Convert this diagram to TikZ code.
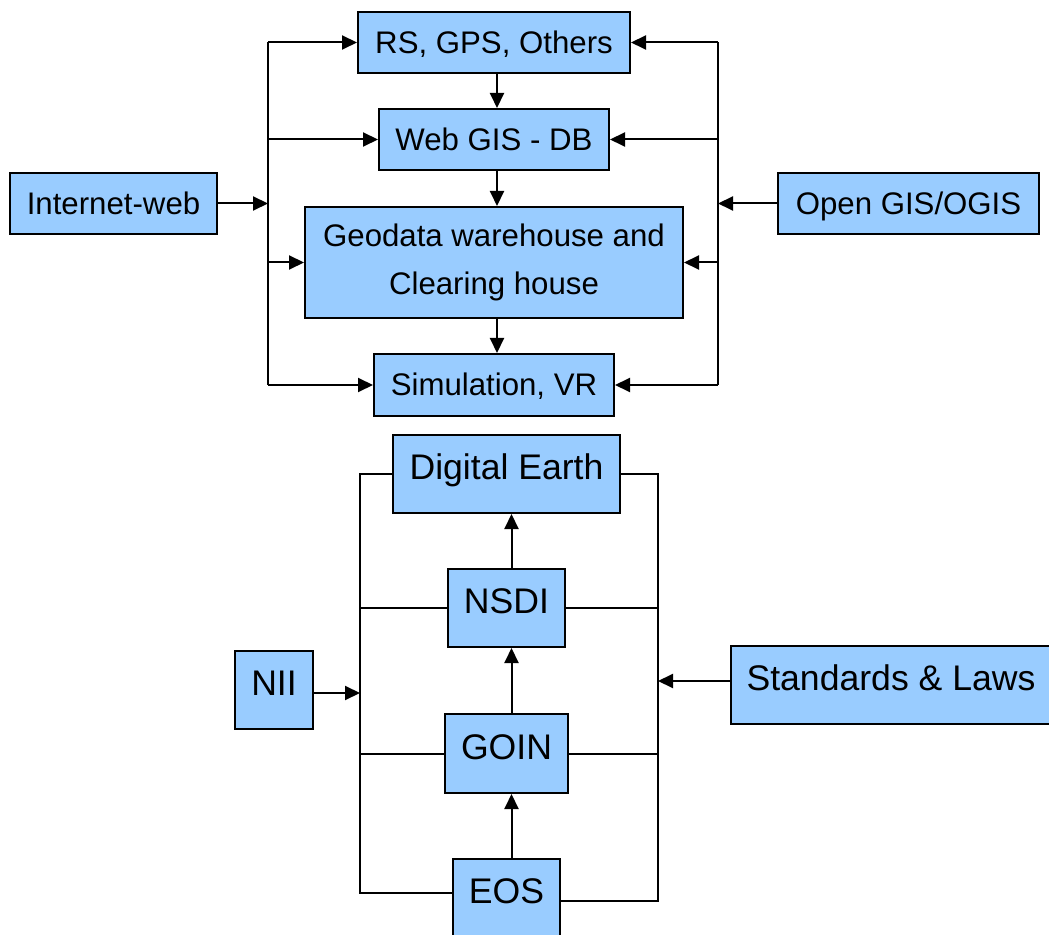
\documentclass[tikz,border=0pt]{standalone}
\usepackage{fontspec}
\setmainfont{Liberation Sans}
\usepackage{tikz}
\usetikzlibrary{arrows.meta,positioning}
\definecolor{boxblue}{HTML}{99CCFF}

\begin{document}
\begin{tikzpicture}[
    x=0.5pt, y=-0.5pt,
    block/.style={
        rectangle, draw, fill=boxblue,
        line width=1pt,
        inner sep=0pt,
        align=center
    },
    upper/.style={block,
        font=\fontsize{15.6}{24}\selectfont,
        minimum height=30.5pt
    },
    lower/.style={block,
        font=\fontsize{17.8}{22}\selectfont,
        text height=13pt, text depth=7.5pt,
        minimum height=39pt
    },
    wire/.style={line width=1pt},
    arr/.style={wire, -{Triangle[length=7.5pt,width=7pt]}}
]
\useasboundingbox (0,0) rectangle (1049,935);
\clip (0,0) rectangle (1049,935);

% upper part
\node[upper, text height=11pt, text depth=0pt, minimum width=136pt] (rs) at (494,42.5) {RS, GPS, Others};
\node[upper, text height=11pt, text depth=0pt, minimum width=115pt] (web) at (494,139.5) {Web GIS - DB};
\node[upper, minimum width=189pt, minimum height=55.5pt] (geo) at (494,262.5) {Geodata warehouse and\\Clearing house};
\node[upper, text height=11pt, text depth=0pt, minimum width=120pt, minimum height=31pt] (sim) at (494,385) {Simulation, VR};
\node[upper, text height=11pt, text depth=0pt, minimum width=103.5pt] (inet) at (113.5,203.5) {Internet-web};
\node[upper, text height=11pt, text depth=0pt, minimum width=130.5pt] (ogis) at (908.5,203.5) {Open GIS/OGIS};

\coordinate (lt) at (268,0);
\coordinate (rt) at (718,0);

\draw[wire] (rs.west -| lt) -- (sim.west -| lt);
\draw[wire] (rs.east -| rt) -- (sim.east -| rt);
\foreach \n in {rs,web,geo,sim}{
    \draw[arr] (\n.west -| lt) -- (\n.west);
    \draw[arr] (\n.east -| rt) -- (\n.east);
}
\draw[arr] (inet.east) -- (inet.east -| lt);
\draw[arr] (ogis.west) -- (ogis.west -| rt);

\draw[arr] ([xshift=1.5pt]rs.south) -- ([xshift=1.5pt]web.north);
\draw[arr] ([xshift=1.5pt]web.south) -- ([xshift=1.5pt]geo.north);
\draw[arr] ([xshift=1.5pt]geo.south) -- ([xshift=1.5pt]sim.north);

% lower part
\node[lower, minimum width=113.5pt] (de) at (506.5,474) {Digital Earth};
\node[lower, minimum width=58.5pt] (nsdi) at (506.5,608) {NSDI};
\node[lower, minimum width=61.5pt, minimum height=39.5pt] (goin) at (506.5,753.5) {GOIN};
\node[lower, minimum width=53.5pt] (eos) at (506.5,898) {EOS};
\node[lower, minimum width=39pt] (nii) at (274,690) {NII};
\node[lower, minimum width=160pt] (std) at (891,685) {Standards \& Laws};

\coordinate (bl) at (360,0);
\coordinate (br) at (658,0);

\draw[wire] (de.west) -| ([yshift=2.5pt]eos.west -| bl) -- ([yshift=2.5pt]eos.west);
\draw[wire] (de.east) -| ([yshift=-1.5pt]eos.east -| br) -- ([yshift=-1.5pt]eos.east);
\foreach \n in {nsdi,goin}{
    \draw[wire] (\n.west -| bl) -- (\n.west);
    \draw[wire] (\n.east) -- (\n.east -| br);
}
\draw[arr] ([yshift=-1.5pt]nii.east) -- ([yshift=-1.5pt]nii.east -| bl);
\draw[arr] ([yshift=2pt]std.west) -- ([yshift=2pt]std.west -| br);

\draw[arr] ([xshift=2.5pt]eos.north) -- ([xshift=2.5pt]goin.south);
\draw[arr] ([xshift=2.5pt]goin.north) -- ([xshift=2.5pt]nsdi.south);
\draw[arr] ([xshift=2.5pt]nsdi.north) -- ([xshift=2.5pt]de.south);
\end{tikzpicture}
\end{document}
